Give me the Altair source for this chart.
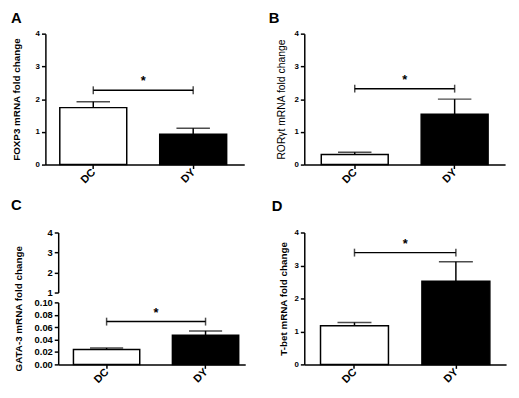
import altair as alt
import pandas as pd

FONT = "Liberation Sans"

groups = ["DC", "DY"]
bar_fills = ["white", "black"]

foxp3_mean = [1.74, 0.93]
foxp3_err = [0.18, 0.18]
rorgt_mean = [0.31, 1.54]
rorgt_err = [0.07, 0.46]
gata3_mean = [0.024, 0.047]
gata3_err = [0.0025, 0.007]
tbet_mean = [1.17, 2.52]
tbet_err = [0.10, 0.59]

sig_a = 2.27
sig_b = 2.32
sig_c = 0.069
sig_d = 3.39

ticks_main = [0, 1, 2, 3, 4]
ticks_c_top = [1, 2, 3, 4]
ticks_c_bottom = [0.0, 0.02, 0.04, 0.06, 0.08, 0.10]

title_a = "FOXP3 mRNA fold change"
title_b = "RORγt mRNA  fold change"
title_c = "GATA-3 mRNA fold change"
title_d = "T-bet mRNA fold change"

P_INNER = 0.33


def letter_title(letter, dx, offset):
    return alt.TitleParams(letter, anchor="start", frame="group", dx=dx, offset=offset,
                           font=FONT, fontSize=15, fontWeight="bold", color="black")


def data_layers(mean, err, sig, width, height, p_outer, align, yscale, yaxis, xrange=None):
    df = pd.DataFrame({"group": groups, "mean": mean,
                       "top": [m + e for m, e in zip(mean, err)]})
    sig_df = pd.DataFrame({"g1": [groups[0]], "g2": [groups[1]], "sig": [sig]})
    ends_df = pd.DataFrame({"group": groups, "sig": [sig, sig]})

    span = (xrange[1] - xrange[0]) if xrange else width
    step = span / (len(groups) - P_INNER + 2 * p_outer)
    bandwidth = step * (1 - P_INNER)

    sc_kwargs = dict(domain=groups, paddingInner=P_INNER, paddingOuter=p_outer, align=align)
    if xrange:
        sc_kwargs["range"] = xrange

    def xenc(field):
        return alt.X(f"{field}:N", scale=alt.Scale(**sc_kwargs),
                     axis=alt.Axis(title=None, labels=False))

    Y = alt.Y("mean:Q", scale=yscale, axis=yaxis)

    bars = alt.Chart(df).mark_bar(stroke="black", strokeWidth=1.5).encode(
        x=xenc("group"), y=Y,
        fill=alt.Fill("group:N", scale=alt.Scale(domain=groups, range=bar_fills), legend=None),
    )
    errline = alt.Chart(df).mark_rule(color="black", strokeWidth=1.5).encode(
        x=xenc("group"), y="mean:Q", y2="top:Q")
    caps = alt.Chart(df).mark_tick(color="black", thickness=1.5, size=bandwidth / 2).encode(
        x=xenc("group"), y="top:Q")
    bracket = alt.Chart(sig_df).mark_rule(color="black", strokeWidth=1.5).encode(
        x=xenc("g1"), x2="g2:N", y="sig:Q")
    ends = alt.Chart(ends_df).mark_tick(color="black", thickness=1.5, size=8,
                                        orient="vertical").encode(x=xenc("group"), y="sig:Q")
    star = alt.Chart(sig_df).mark_text(text="*", font=FONT, fontSize=13, fontWeight="bold",
                                       dx=step / 2, dy=-9, color="black").encode(
        x=xenc("g1"), y="sig:Q")
    # rotated category labels under the x axis ticks
    xlabels = alt.Chart(df).mark_text(angle=315, align="right", baseline="middle",
                                      font=FONT, fontSize=11, fontWeight="bold",
                                      color="black", dx=1).encode(
        x=xenc("group"), y=alt.value(height + 7), text="group:N")
    return alt.layer(bars, errline, caps, bracket, ends, star, xlabels)


def y_axis(values, title, title_x, label_size=8, title_size=10, title_weight="bold",
           fmt=None, offset=0, title_y=None):
    kw = dict(values=values, tickCount=len(values), title=title, titleFontSize=title_size,
              titleFontWeight=title_weight, labelFontSize=label_size, titleX=title_x,
              offset=offset, labelOverlap=False, orient="left")
    if fmt:
        kw["format"] = fmt
    if title_y is not None:
        kw["titleY"] = title_y
    return alt.Axis(**kw)


def simple_panel(mean, err, sig, letter, ytitle, width, height, p_outer, align=0.5,
                 title_size=10, title_weight="bold", title_x=-25, letter_dx=-35,
                 letter_offset=4):
    yscale = alt.Scale(domain=[0, 4], nice=False, zero=False)
    yaxis = y_axis(ticks_main, ytitle, title_x, title_size=title_size,
                   title_weight=title_weight)
    return data_layers(mean, err, sig, width, height, p_outer, align, yscale,
                       yaxis).properties(
        width=width, height=height, title=letter_title(letter, letter_dx, letter_offset))


panel_a = simple_panel(foxp3_mean, foxp3_err, sig_a, "A", title_a, 202, 133, 0.16,
                       align=0.45, title_x=-24, letter_dx=-35)
panel_b = simple_panel(rorgt_mean, rorgt_err, sig_b, "B", title_b, 204, 133, 0.17,
                       title_size=10.5, title_weight="normal", title_x=-18, letter_dx=-36)
panel_d = simple_panel(tbet_mean, tbet_err, sig_d, "D", title_d, 205, 134, 0.16,
                       title_x=-16, letter_dx=-33, letter_offset=15)

# Panel C: broken y axis -> upper segment (1-4) and lower segment (0-0.10)
C_H = 134
c_top_df = pd.DataFrame({"v": ticks_c_top})
c_top = alt.Chart(c_top_df).mark_point(opacity=0).encode(
    y=alt.Y("v:Q", scale=alt.Scale(domain=[1, 4], nice=False, zero=False, range=[61, 0]),
            axis=y_axis(ticks_c_top, None, 0, label_size=9.5, offset=-13)),
)
c_bottom = data_layers(
    gata3_mean, gata3_err, sig_c, 203, C_H, 0.11, 0.7,
    alt.Scale(domain=[0, 0.1], nice=False, zero=False, range=[C_H, 71]),
    y_axis(ticks_c_bottom, title_c, -35, label_size=9.5, fmt=".2f", offset=-13, title_y=77),
    xrange=[13, 203],
)
panel_c = alt.layer(c_top, c_bottom).resolve_scale(y="independent").properties(
    width=203, height=C_H, title=letter_title("C", -35, 15))

chart = alt.concat(panel_a, panel_b, panel_c, panel_d, columns=2, bounds="flush",
                   spacing={"row": 69, "column": 60}).properties(
    padding={"left": 3, "top": 0, "right": 5, "bottom": 5}
).configure_view(stroke=None).configure_axis(
    domainColor="black", domainWidth=1.5, tickColor="black", tickWidth=1.5, tickSize=4,
    labelColor="black", labelFont=FONT, labelFontWeight="bold", labelPadding=2,
    grid=False, titleColor="black", titleFont=FONT,
)

chart.save("out.html", embed_options={"renderer": "svg", "actions": False})
